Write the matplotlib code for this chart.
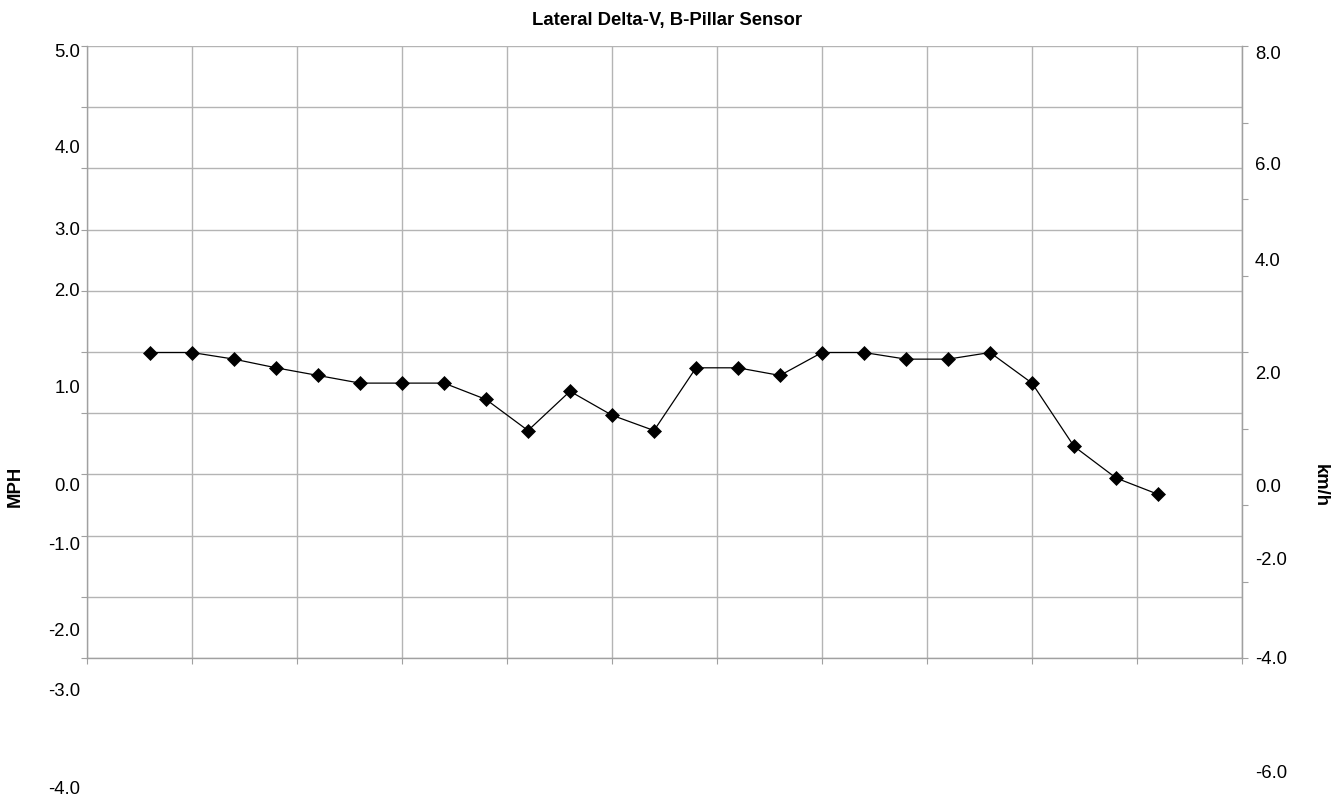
import matplotlib
matplotlib.use("Agg")
import matplotlib.pyplot as plt
from matplotlib.ticker import MultipleLocator, NullFormatter
import numpy as np

plt.rcParams['font.family'] = ['Liberation Sans', 'DejaVu Sans']

# Lateral delta-V recorded by the B-pillar sensor
time_ms = [6, 10, 14, 18, 22, 26, 30, 34, 38, 42, 46, 50, 54,
           58, 62, 66, 70, 74, 78, 82, 86, 90, 94, 98, 102]
delta_v_kmh = [1.99, 1.99, 1.86, 1.69, 1.54, 1.39, 1.39, 1.39, 1.07, 0.46,
               1.23, 0.76, 0.46, 1.69, 1.69, 1.54, 1.99, 1.99, 1.86, 1.86,
               1.99, 1.39, 0.15, -0.47, -0.79]

mph_labels = ["5.0", "4.0", "3.0", "2.0", "1.0", "0.0", "-1.0", "-2.0", "-3.0", "-4.0"]
kmh_labels = ["8.0", "6.0", "4.0", "2.0", "0.0", "-2.0", "-4.0", "-6.0"]

TITLE = "Lateral Delta-V, B-Pillar Sensor"

# figure geometry (pixels)
W, H = 1334, 797
DPI = 100
mph_label_y = [51, 146.7, 228.3, 289.3, 386.7, 485, 544, 629.3, 689.3, 787.7]
kmh_label_y = [52.7, 163.3, 259.3, 372.3, 485.7, 559, 657.3, 771.7]
TEXT_SHIFT = 1.8  # nudge for the vertical centring of the text boxes

GRID = "#b4b4b4"
SPINE = "#a0a0a0"

fig = plt.figure(figsize=(W / DPI, H / DPI), dpi=DPI)
left, right, top, bottom = 87, 1242, 46, 658
ax = fig.add_axes([left / W, 1 - bottom / H, (right - left) / W, (bottom - top) / H])

ax.set_xlim(0, 110)
ax.set_ylim(-4, 8)
ax.xaxis.set_major_locator(MultipleLocator(10))
ax.set_yticks(np.linspace(-4, 8, 11))
ax.xaxis.set_major_formatter(NullFormatter())
ax.yaxis.set_major_formatter(NullFormatter())
ax.grid(True, color=GRID, linewidth=1.0)
ax.set_axisbelow(True)
ax.tick_params(axis='both', length=4, width=0.8, color=SPINE)
for s in ax.spines.values():
    s.set_color(SPINE)
    s.set_linewidth(1.0)
ax.spines['top'].set_visible(False)

# secondary axis ticks on the right
ax2 = ax.twinx()
ax2.set_ylim(-4, 8)
ax2.set_yticks(np.linspace(-4, 8, 9))
ax2.yaxis.set_major_formatter(NullFormatter())
ax2.tick_params(axis='y', length=4, width=0.8, color=SPINE)
for s in ax2.spines.values():
    s.set_visible(False)
ax2.spines['right'].set_visible(True)
ax2.spines['right'].set_color(SPINE)

ax.plot(time_ms, delta_v_kmh, color='black', linewidth=0.9,
        marker='D', markersize=7.0, markerfacecolor='black',
        markeredgecolor='black', markeredgewidth=0.5, zorder=5)

fs = 13.3
for lab, y in zip(mph_labels, mph_label_y):
    fig.text(80 / W, 1 - (y + TEXT_SHIFT) / H, lab, ha='right', va='center', fontsize=fs)
for lab, y in zip(kmh_labels, kmh_label_y):
    fig.text(1255 / W, 1 - (y + TEXT_SHIFT) / H, lab, ha='left', va='center', fontsize=fs)

fig.text(667 / W, 1 - (19 + TEXT_SHIFT) / H, TITLE, ha='center', va='center',
         fontsize=fs, fontweight='bold')
fig.text(15 / W, 1 - 486.7 / H, "MPH", ha='center', va='center',
         fontsize=fs, fontweight='bold', rotation=90)
fig.text(1320 / W, 1 - 485.7 / H, "km/h", ha='center', va='center',
         fontsize=fs, fontweight='bold', rotation=270)

fig.savefig("out.png", dpi=DPI)
